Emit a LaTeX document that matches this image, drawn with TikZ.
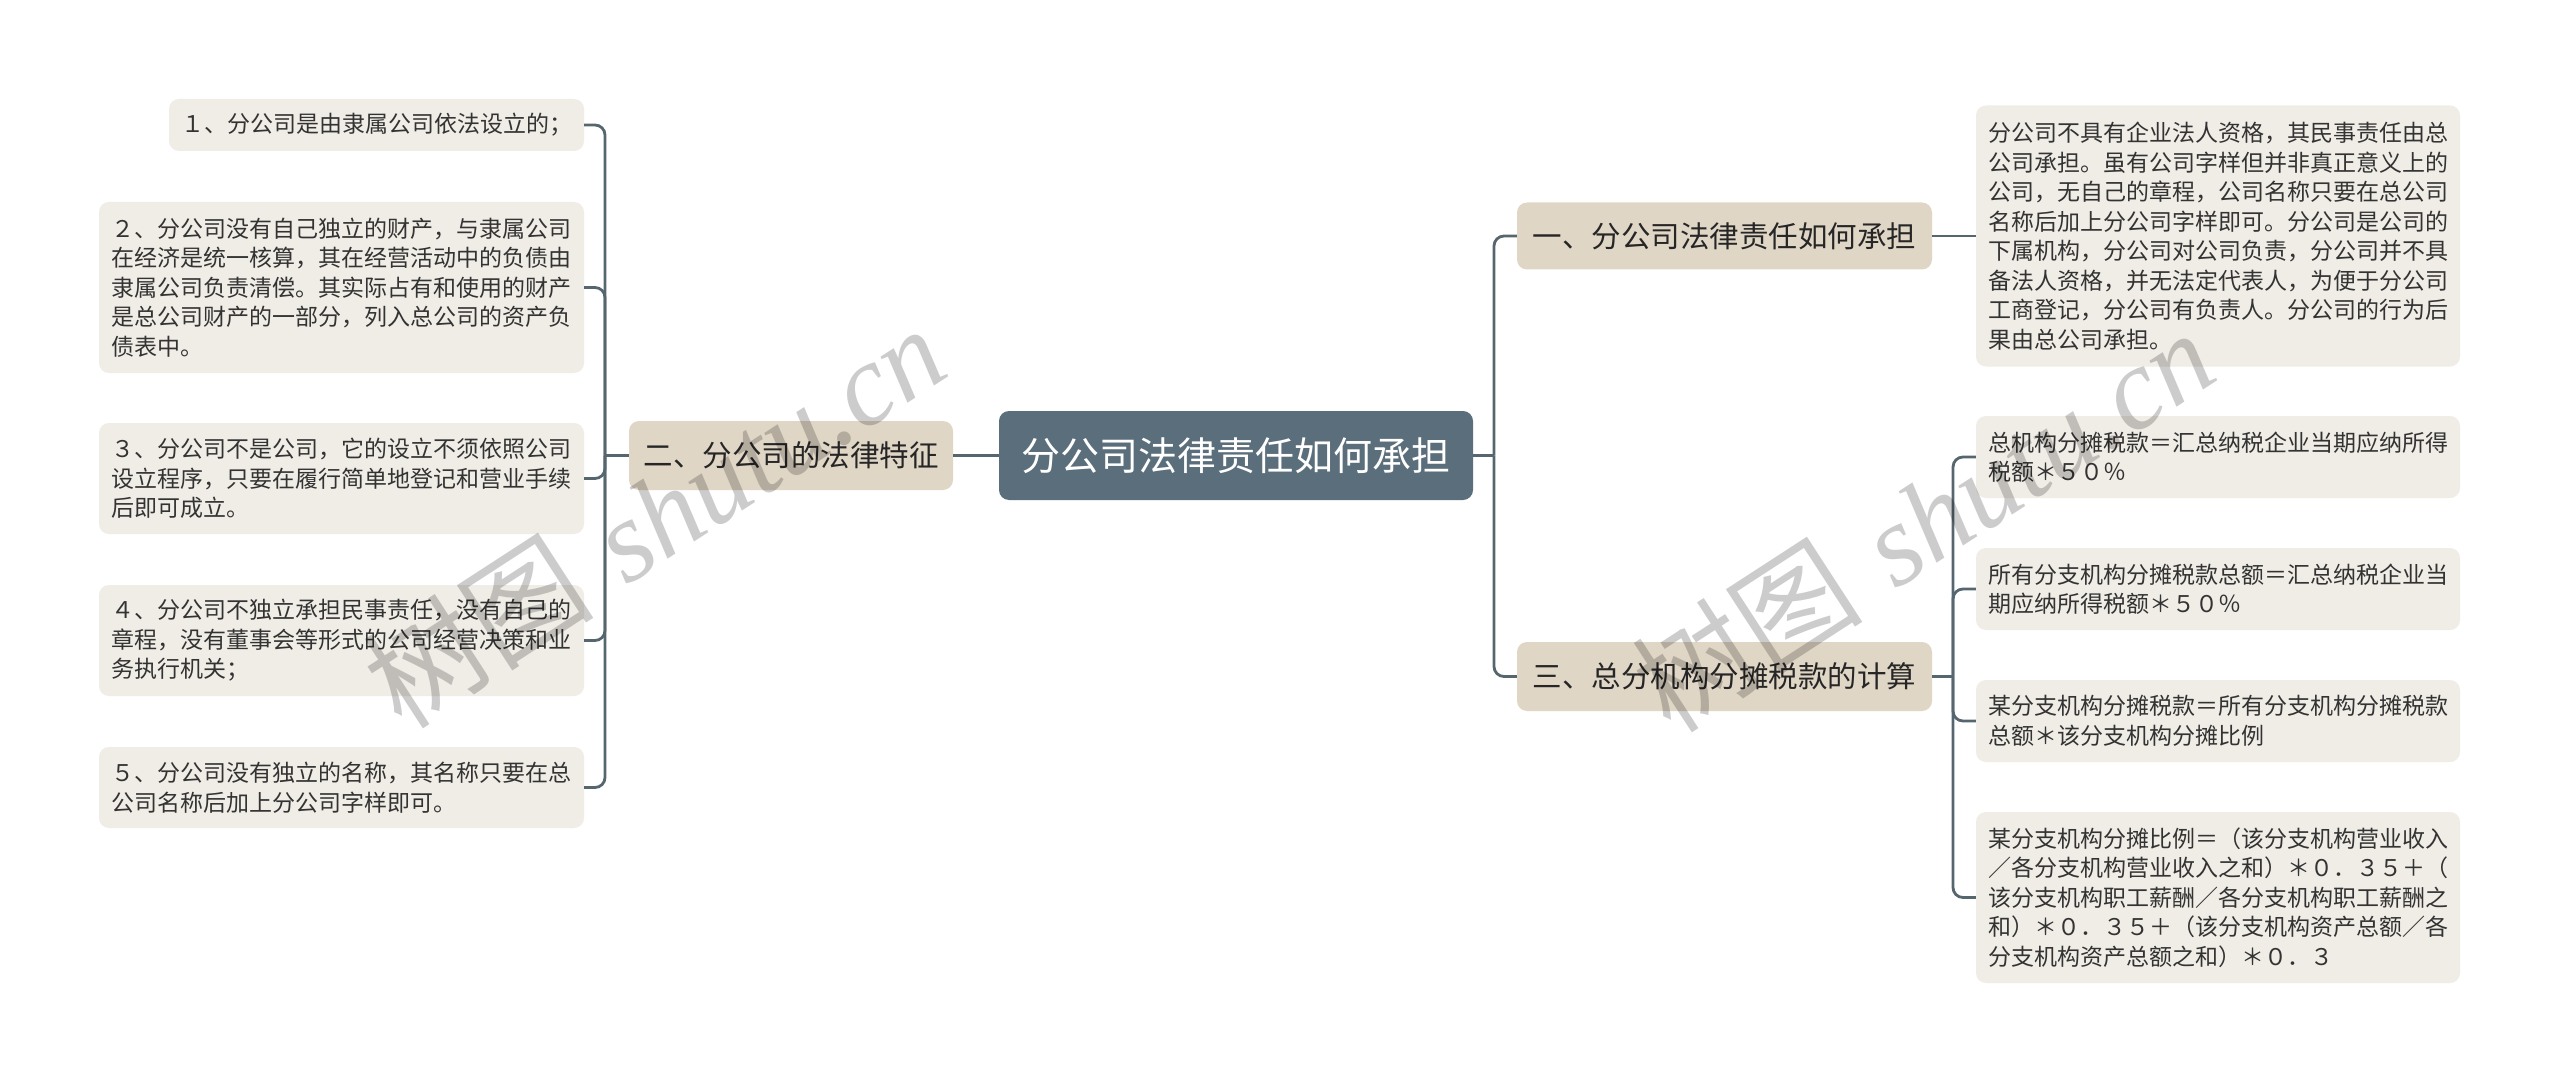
\documentclass[tikz,border=0pt]{standalone}
\usepackage{fontspec}
\newfontfamily\cjk{Noto Sans CJK SC}
\newfontfamily\wmlatin{Liberation Serif}
\definecolor{rootc}{HTML}{5B6E7B}
\definecolor{branchc}{HTML}{E0D6C6}
\definecolor{leafc}{HTML}{F0EDE6}
\definecolor{linec}{HTML}{56666F}
\definecolor{txt}{HTML}{333333}
\tikzset{
  box/.style 2 args={minimum width=#1pt, minimum height=#2pt, inner sep=0pt, rounded corners=10pt, align=left},
  leaf/.style={fill=leafc, text=txt, font=\cjk\fontsize{23}{29.5}\selectfont},
  branch/.style={fill=branchc, text=black!85, font=\cjk\fontsize{29.5}{34}\selectfont},
  rootn/.style={fill=rootc, text=white, font=\cjk\fontsize{39}{44}\selectfont},
  conn/.style={draw=linec, line width=2.8pt, rounded corners=10pt},
  wm/.style={text=black, opacity=0.2, rotate=33, inner sep=0pt, font=\fontsize{116}{120}\selectfont}
}
\begin{document}
\begin{tikzpicture}[x=1pt,y=-1pt]
\useasboundingbox (0,0) rectangle (2560,1083);
\fill[white] (0,0) rectangle (2560,1083);

% root and main branches
\node[box={474}{89}, rootn] (root) at (1236,455.5) {分公司法律责任如何承担};
\node[box={324}{69}, branch] (b2) at (791,455.5) {二、分公司的法律特征};
\node[box={415}{67}, branch] (b1) at (1724.5,236) {一、分公司法律责任如何承担};
\node[box={415}{69}, branch] (b3) at (1724.5,676.5) {三、总分机构分摊税款的计算};

% left leaves
\node[box={415}{52}, leaf] (L1) at (376.5,125) {１、分公司是由隶属公司依法设立的；};
\node[box={485}{171}, leaf] (L2) at (341.5,287.5) {２、分公司没有自己独立的财产，与隶属公司\\在经济是统一核算，其在经营活动中的负债由\\隶属公司负责清偿。其实际占有和使用的财产\\是总公司财产的一部分，列入总公司的资产负\\债表中。};
\node[box={485}{111}, leaf] (L3) at (341.5,478.5) {３、分公司不是公司，它的设立不须依照公司\\设立程序，只要在履行简单地登记和营业手续\\后即可成立。};
\node[box={485}{111}, leaf] (L4) at (341.5,640.5) {４、分公司不独立承担民事责任，没有自己的\\章程，没有董事会等形式的公司经营决策和业\\务执行机关；};
\node[box={485}{81}, leaf] (L5) at (341.5,787.5) {５、分公司没有独立的名称，其名称只要在总\\公司名称后加上分公司字样即可。};

% right leaves
\node[box={484}{261}, leaf] (R1) at (2218,236) {分公司不具有企业法人资格，其民事责任由总\\公司承担。虽有公司字样但并非真正意义上的\\公司，无自己的章程，公司名称只要在总公司\\名称后加上分公司字样即可。分公司是公司的\\下属机构，分公司对公司负责，分公司并不具\\备法人资格，并无法定代表人，为便于分公司\\工商登记，分公司有负责人。分公司的行为后\\果由总公司承担。};
\node[box={484}{82}, leaf] (R3a) at (2218,457) {总机构分摊税款＝汇总纳税企业当期应纳所得\\税额＊５０％};
\node[box={484}{82}, leaf] (R3b) at (2218,589) {所有分支机构分摊税款总额＝汇总纳税企业当\\期应纳所得税额＊５０％};
\node[box={484}{82}, leaf] (R3c) at (2218,721) {某分支机构分摊税款＝所有分支机构分摊税款\\总额＊该分支机构分摊比例};
\node[box={484}{171}, leaf] (R3d) at (2218,897.5) {某分支机构分摊比例＝（该分支机构营业收入\\／各分支机构营业收入之和）＊０．３５＋（\\该分支机构职工薪酬／各分支机构职工薪酬之\\和）＊０．３５＋（该分支机构资产总额／各\\分支机构资产总额之和）＊０．３};

% junction points
\coordinate (sl) at (605,455.5);
\coordinate (sr) at (1494,455.5);
\coordinate (s3) at (1953,676.5);

% connectors
\draw[conn] (root.west) -- (b2.east);
\draw[conn] (b2.west) -- (sl);
\foreach \n in {L1,L2,L3,L4,L5} \draw[conn] (sl) |- (\n.east);
\draw[conn] (root.east) -- (sr);
\draw[conn] (sr) |- (b1.west);
\draw[conn] (sr) |- (b3.west);
\draw[conn] (b1.east) -- (R1.west);
\draw[conn] (b3.east) -- (s3);
\foreach \n in {R3a,R3b,R3c,R3d} \draw[conn] (s3) |- (\n.west);

% watermarks
\node[wm] (wm1) at (654,516) {{\cjk 树图} {\wmlatin\itshape shutu.cn}};
\node[wm] (wm2) at (1923,520) {{\cjk 树图} {\wmlatin\itshape shutu.cn}};
\end{tikzpicture}
\end{document}
